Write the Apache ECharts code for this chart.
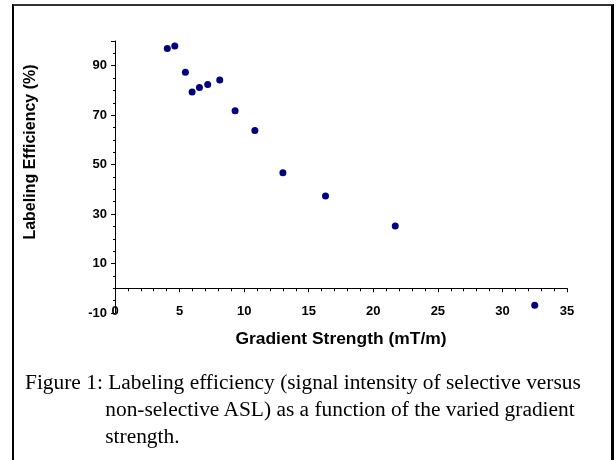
<!DOCTYPE html>
<html>
<head>
<meta charset="utf-8">
<script src="https://cdn.jsdelivr.net/npm/echarts@6/dist/echarts.min.js"></script>
<style>
  html, body { margin: 0; padding: 0; background: #fff; }
  #wrap { position: relative; width: 616px; height: 460px; overflow: hidden; }
  #chart { position: absolute; left: 0; top: 0; width: 616px; height: 460px; }
  #frame { position: absolute; left: 12px; top: 4px; width: 597px; height: 454px;
           border-left: 2px solid #000; border-right: 3px solid #000;
           border-top: 2px solid #333; border-bottom: 1px solid #c8c8c8; pointer-events: none; }
  #caption { position: absolute; left: 25px; top: 369px; width: 560px;
             font-family: "Liberation Serif", "DejaVu Serif", serif; font-size: 20px; line-height: 27px; color: #000;
             transform: scaleX(1.07); transform-origin: 0 0; }
  #caption .l1 { white-space: nowrap; }
  #caption .ind { padding-left: 75px; white-space: nowrap; }
</style>
</head>
<body>
<div id="wrap">
  <div id="chart"></div>
  <div id="frame"></div>
  <div id="caption">
    <div class="l1">Figure 1: Labeling efficiency (signal intensity of selective versus</div>
    <div class="ind">non-selective ASL) as a function of the varied gradient</div>
    <div class="ind">strength.</div>
  </div>
</div>
<script>
// Data
const gradientStrength = [4.05, 4.63, 5.45, 5.97, 6.54, 7.18, 8.11, 9.30, 10.83, 13.0, 16.3, 21.7, 32.5];
const labelingEfficiency = [97.0, 98.0, 87.4, 79.4, 81.2, 82.4, 84.2, 71.8, 63.8, 46.7, 37.3, 25.2, -6.9];
const xAxisTitle = 'Gradient Strength (mT/m)';
const yAxisTitle = 'Labeling Efficiency (%)';

const points = gradientStrength.map((x, i) => [x, labelingEfficiency[i]]);

const chart = echarts.init(document.getElementById('chart'), null, { renderer: 'canvas' });
const axisFont = { fontFamily: 'Liberation Sans, Arial, sans-serif', fontWeight: 'bold', fontSize: 13, color: '#000' };
chart.setOption({
  animation: false,
  backgroundColor: '#fff',
  grid: { left: 115, right: 49, top: 41, bottom: 147, containLabel: false },
  xAxis: {
    type: 'value', min: 0, max: 35, interval: 5,
    axisLine: { onZero: true, lineStyle: { color: '#000', width: 1 } },
    axisTick: { show: true, inside: false, length: 4, lineStyle: { color: '#000' } },
    minorTick: { show: true, splitNumber: 5, length: 3, lineStyle: { color: '#000' } },
    axisLabel: Object.assign({ margin: -8 }, axisFont),
    splitLine: { show: false }
  },
  yAxis: {
    type: 'value', min: -10, max: 100, interval: 20,
    axisLine: { show: true, onZero: false, lineStyle: { color: '#000', width: 1 } },
    axisTick: { show: true, inside: false, length: 4, lineStyle: { color: '#000' } },
    minorTick: { show: true, splitNumber: 4, length: 2, lineStyle: { color: '#000' } },
    axisLabel: Object.assign({ margin: 8, showMaxLabel: false }, axisFont),
    splitLine: { show: false }
  },
  graphic: [
    { type: 'text', x: 341, y: 340, scaleX: 1.09,
      style: { text: xAxisTitle, textAlign: 'center', textVerticalAlign: 'middle',
        font: 'bold 16px "Liberation Sans", Arial, sans-serif', fill: '#000' } },
    { type: 'text', x: 31, y: 152, rotation: Math.PI / 2,
      style: { text: yAxisTitle, textAlign: 'center', textVerticalAlign: 'middle',
        font: 'bold 16px "Liberation Sans", Arial, sans-serif', fill: '#000' } }
  ],
  series: [{
    type: 'scatter',
    data: points,
    symbol: 'circle',
    symbolSize: 7,
    itemStyle: { color: '#000080', opacity: 1 }
  }]
});
</script>
</body>
</html>
